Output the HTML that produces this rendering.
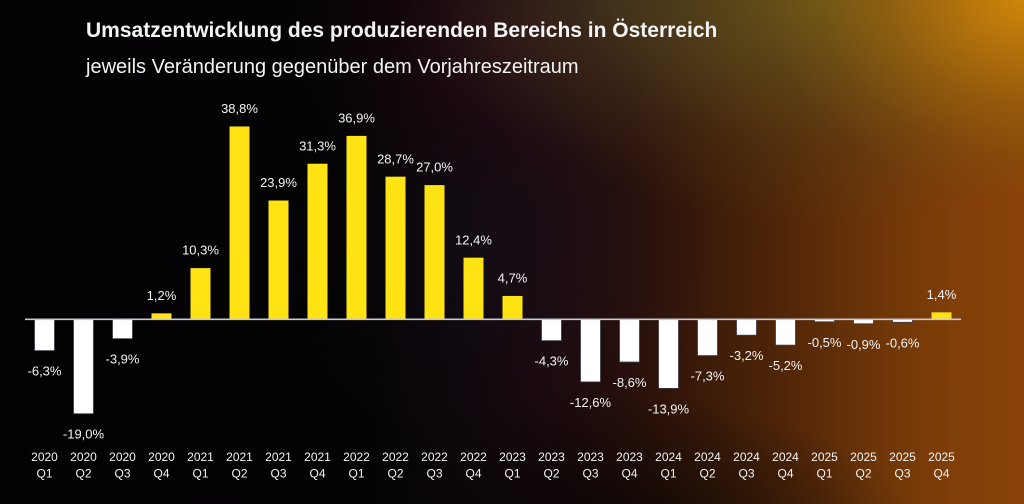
<!DOCTYPE html>
<html><head><meta charset="utf-8"><style>
html,body{margin:0;padding:0;width:1024px;height:504px;overflow:hidden;background:#040304;}
#wrap{position:relative;width:1024px;height:504px;overflow:hidden;
background:
radial-gradient(ellipse 270px 210px at 1034px -10px, rgba(212,140,10,1) 0%, rgba(200,128,10,0.8) 25%, rgba(180,115,10,0.45) 55%, rgba(160,105,12,0.15) 80%, rgba(150,100,12,0) 100%),
radial-gradient(ellipse 380px 230px at 820px -5px, rgba(110,95,28,0.8) 0%, rgba(100,85,30,0.55) 35%, rgba(90,75,30,0.25) 65%, rgba(80,70,30,0) 100%),
radial-gradient(ellipse 220px 140px at 620px 10px, rgba(55,48,38,0.5) 0%, rgba(55,48,38,0.2) 55%, rgba(55,48,38,0) 100%),
radial-gradient(ellipse 240px 170px at 520px 30px, rgba(48,12,18,0.6) 0%, rgba(48,12,18,0.25) 55%, rgba(48,12,18,0) 100%),
radial-gradient(ellipse 220px 240px at 500px 240px, rgba(24,16,30,0.55) 0%, rgba(24,16,30,0.2) 55%, rgba(24,16,30,0) 100%),
radial-gradient(ellipse 340px 150px at 580px 540px, rgba(6,4,4,0.85) 0%, rgba(6,4,4,0.4) 55%, rgba(6,4,4,0) 100%),
linear-gradient(90deg, #030203 0%, #040304 36%, #0f070c 46%, #1c0a0c 54%, #2a100a 62%, #3e1c08 70%, #552808 78%, #6e3608 86%, #803e08 93%, #8a4308 100%);
}
svg{position:absolute;left:0;top:0;}
text{font-family:"Liberation Sans",Arial,sans-serif;fill:#f4f4f4;}
</style></head><body>
<div id="wrap">
<svg width="1024" height="504" viewBox="0 0 1024 504" xmlns="http://www.w3.org/2000/svg">
<text x="86" y="37" font-size="21" font-weight="bold" fill="#ffffff">Umsatzentwicklung des produzierenden Bereichs in Österreich</text>
<text x="86" y="73" font-size="20" fill="#ffffff">jeweils Veränderung gegenüber dem Vorjahreszeitraum</text>
<g id="bars"></g>
<line x1="25" y1="319.3" x2="961" y2="319.3" stroke="#c8c8d2" stroke-width="1.6"/>
<g id="labels" font-size="13" text-anchor="middle"></g>
<g id="cats" font-size="12" text-anchor="middle"></g>
</svg>
</div>
<script>
var vals=[-6.3,-19.0,-3.9,1.2,10.3,38.8,23.9,31.3,36.9,28.7,27.0,12.4,4.7,-4.3,-12.6,-8.6,-13.9,-7.3,-3.2,-5.2,-0.5,-0.9,-0.6,1.4];
var ns="http://www.w3.org/2000/svg";
var bars=document.getElementById("bars"),labels=document.getElementById("labels"),cats=document.getElementById("cats");
var zero=319.3,sc=4.97;
for(var i=0;i<vals.length;i++){
 var v=vals[i],cx=44.5+39*i,h=Math.abs(v)*sc;
 var r=document.createElementNS(ns,"rect");
 r.setAttribute("x",cx-10);r.setAttribute("width",20);
 if(v>=0){r.setAttribute("y",zero-h);r.setAttribute("height",h);r.setAttribute("fill","#ffe312");}
 else{r.setAttribute("y",zero);r.setAttribute("height",h);r.setAttribute("fill","#ffffff");r.setAttribute("stroke","#3a3a44");r.setAttribute("stroke-width","0.8");}
 bars.appendChild(r);
 var t=document.createElementNS(ns,"text");
 t.setAttribute("x",cx);
 t.setAttribute("y",v>=0?(zero-h-13.4):(zero+h+25));
 t.textContent=(v<0?"-":"")+Math.abs(v).toFixed(1).replace(".",",")+"%";
 labels.appendChild(t);
 var y=2020+Math.floor(i/4),q=(i%4)+1;
 var t1=document.createElementNS(ns,"text");t1.setAttribute("x",cx);t1.setAttribute("y",461);t1.textContent=y;cats.appendChild(t1);
 var t2=document.createElementNS(ns,"text");t2.setAttribute("x",cx);t2.setAttribute("y",477.5);t2.textContent="Q"+q;cats.appendChild(t2);
}
</script>
</body></html>
